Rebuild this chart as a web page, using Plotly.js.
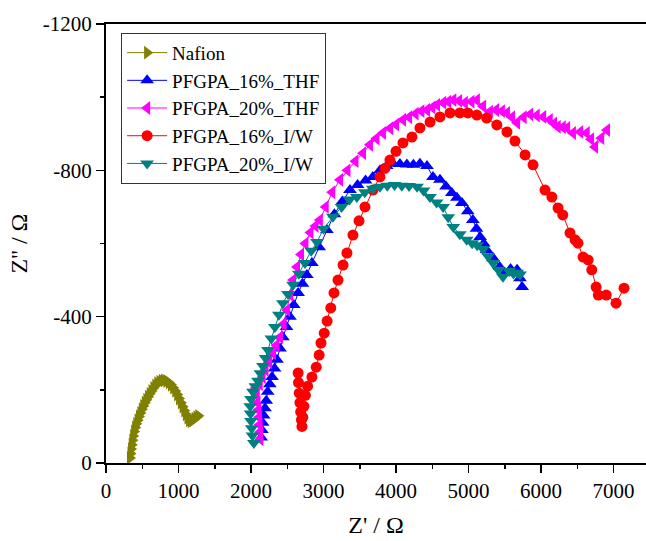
<!DOCTYPE html>
<html>
<head>
<meta charset="utf-8">
<script src="https://cdn.plot.ly/plotly-3.0.1.min.js"></script>
<style>html,body{margin:0;padding:0;background:#fff;}#chart{width:646px;height:541px;}</style>
</head>
<body>
<div id="chart"></div>
<script>
// Series names
const seriesNames = ["Nafion", "PFGPA_16%_THF", "PFGPA_20%_THF", "PFGPA_16%_I/W", "PFGPA_20%_I/W"];

// Nafion
const nafionX = [330,338,346,355,364,375,388,402,418,436,455,474,494,514,535,557,580,603,628,654,680,708,738,770,802,834,866,897,927,955,982,1008,1033,1057,1080,1102,1124,1146,1170,1196,1222,1248,1274];
const nafionY = [-14,-26,-38,-50,-62,-74,-86,-97,-107,-117,-127,-137,-147,-156,-165,-173,-181,-189,-197,-205,-212,-218,-222,-225,-226,-224,-220,-214,-206,-197,-187,-176,-165,-154,-143,-133,-124,-117,-114,-117,-121,-125,-129];

// PFGPA_16%_THF
const thf16X = [2140,2150,2160,2175,2193,2210,2230,2260,2290,2325,2358,2400,2440,2490,2537,2590,2650,2710,2770,2840,2940,3047,3150,3260,3365,3470,3580,3680,3780,3870,3960,4054,4150,4240,4330,4427,4510,4606,4690,4770,4840,4910,4990,5060,5110,5160,5210,5250,5340,5430,5500,5580,5670,5710,5740];
const thf16Y = [-70,-90,-110,-130,-150,-170,-195,-215,-235,-258,-282,-313,-344,-372,-400,-432,-465,-490,-514,-547,-590,-637,-680,-715,-746,-760,-772,-782,-800,-812,-818,-817,-816,-815,-818,-812,-782,-774,-756,-738,-725,-711,-688,-664,-640,-618,-600,-582,-560,-536,-520,-530,-528,-505,-481];

// PFGPA_20%_THF
const thf20X = [2130,2125,2118,2110,2100,2090,2080,2065,2120,2160,2200,2250,2303,2350,2400,2450,2496,2540,2580,2634,2690,2750,2820,2890,2950,3030,3120,3227,3330,3440,3545,3640,3730,3820,3920,4000,4096,4180,4270,4350,4427,4500,4565,4650,4720,4790,4870,4950,5040,5115,5200,5295,5380,5460,5530,5600,5670,5760,5850,5940,6030,6120,6180,6230,6300,6360,6440,6540,6630,6690,6745,6830,6910];
const thf20Y = [-65,-85,-105,-125,-145,-165,-185,-205,-215,-235,-255,-275,-300,-322,-344,-380,-418,-460,-500,-536,-570,-600,-630,-648,-664,-700,-740,-774,-800,-825,-847,-870,-887,-902,-915,-925,-938,-945,-955,-962,-965,-972,-979,-985,-988,-992,-990,-985,-988,-992,-975,-960,-965,-962,-957,-945,-930,-945,-953,-950,-946,-938,-928,-919,-918,-916,-902,-905,-902,-885,-864,-888,-910];

// PFGPA_16%_I/W
const iw16X = [2650,2655,2665,2675,2685,2695,2703,2715,2730,2750,2780,2840,2900,2940,2965,3010,3050,3100,3145,3200,3270,3323,3406,3490,3572,3682,3778,3850,3916,4000,4096,4220,4330,4470,4606,4745,4880,4990,5115,5250,5390,5530,5640,5780,5890,6055,6150,6235,6300,6400,6470,6510,6580,6650,6700,6760,6790,6900,7035,7145];
const iw16Y = [-246,-220,-191,-165,-140,-118,-100,-125,-155,-185,-210,-235,-262,-295,-328,-355,-388,-424,-465,-500,-541,-574,-623,-662,-700,-746,-782,-806,-828,-852,-875,-891,-916,-932,-946,-957,-957,-957,-951,-943,-924,-905,-880,-842,-815,-746,-727,-697,-678,-629,-610,-601,-563,-555,-528,-481,-459,-459,-437,-478];

// PFGPA_20%_I/W
const iw20X = [2040,2020,2010,2000,1995,1990,2000,2027,2060,2096,2130,2165,2200,2234,2280,2330,2385,2440,2510,2580,2660,2744,2830,2910,3000,3130,3250,3360,3460,3570,3680,3778,3880,3980,4080,4180,4290,4380,4468,4560,4650,4720,4790,4880,4975,5050,5120,5200,5270,5340,5410,5475,5560,5620,5670,5710];
const iw20Y = [-55,-75,-95,-115,-135,-155,-175,-195,-210,-225,-245,-265,-287,-309,-340,-372,-405,-437,-462,-487,-517,-547,-580,-604,-640,-673,-700,-720,-727,-740,-750,-755,-758,-760,-758,-757,-755,-745,-727,-712,-700,-672,-645,-625,-610,-601,-595,-585,-565,-547,-528,-509,-525,-518,-520,-515];

// Tick labels
const yTickVals = [0, -400, -800, -1200];
const yTickText = ["0", "-400", "-800", "-1200"];
const xTickVals = [0, 1000, 2000, 3000, 4000, 5000, 6000, 7000];
const xTickText = ["0", "1000", "2000", "3000", "4000", "5000", "6000", "7000"];

const colors = ["#808000", "#0000FF", "#FF00FF", "#FF0000", "#008080"];
const symbols = ["triangle-right", "triangle-up", "triangle-left", "circle", "triangle-down"];
const xs = [nafionX, thf16X, thf20X, iw16X, iw20X];
const ys = [nafionY, thf16Y, thf20Y, iw16Y, iw20Y];

const traces = seriesNames.map((n, i) => ({
  type: "scatter",
  mode: "lines+markers",
  name: n,
  x: xs[i],
  y: ys[i],
  line: {color: colors[i], width: 1},
  marker: {color: colors[i], symbol: symbols[i], size: symbols[i] === "circle" ? 11 : 12, line: {width: 0}}
}));

const font = "Liberation Serif, Times New Roman, serif";

const layout = {
  width: 646, height: 541,
  margin: {l: 106, r: 0, t: 24, b: 78},
  paper_bgcolor: "#fff", plot_bgcolor: "#fff",
  font: {family: font, color: "#000", size: 21},
  showlegend: true,
  legend: {
    x: 0.028, y: 0.98, xanchor: "left", yanchor: "top",
    bgcolor: "#fff", bordercolor: "#333", borderwidth: 1,
    font: {family: font, size: 19, color: "#000"},
    itemwidth: 40, tracegroupgap: 0,
    entrywidth: 200, entrywidthmode: "pixels"
  },
  xaxis: {
    range: [0, 7448],
    tickmode: "array", tickvals: xTickVals, ticktext: xTickText,
    ticks: "outside", ticklen: 8, tickwidth: 1.5, tickcolor: "#000",
    minor: {ticks: "outside", ticklen: 4, tickwidth: 1.5, dtick: 500, tick0: 500, tickcolor: "#000", showgrid: false},
    showline: true, linewidth: 2, linecolor: "#000", mirror: true,
    showgrid: false, zeroline: false,
    tickfont: {family: font, size: 21, color: "#000"},
    title: {text: "Z' / Ω", font: {family: font, size: 24, color: "#000"}, standoff: 14},
    automargin: false
  },
  yaxis: {
    range: [0, -1200],
    tickmode: "array", tickvals: yTickVals, ticktext: yTickText,
    ticks: "outside", ticklen: 8, tickwidth: 1.5, tickcolor: "#000",
    minor: {ticks: "outside", ticklen: 4, tickwidth: 1.5, dtick: 200, tick0: 200, tickcolor: "#000", showgrid: false},
    showline: true, linewidth: 2, linecolor: "#000", mirror: false,
    showgrid: false, zeroline: false,
    tickfont: {family: font, size: 21, color: "#000"},
    title: {text: "Z'' / Ω", font: {family: font, size: 24, color: "#000"}, standoff: 8},
    automargin: false
  }
};

Plotly.newPlot("chart", traces, layout, {displayModeBar: false, staticPlot: true});
</script>
</body>
</html>
